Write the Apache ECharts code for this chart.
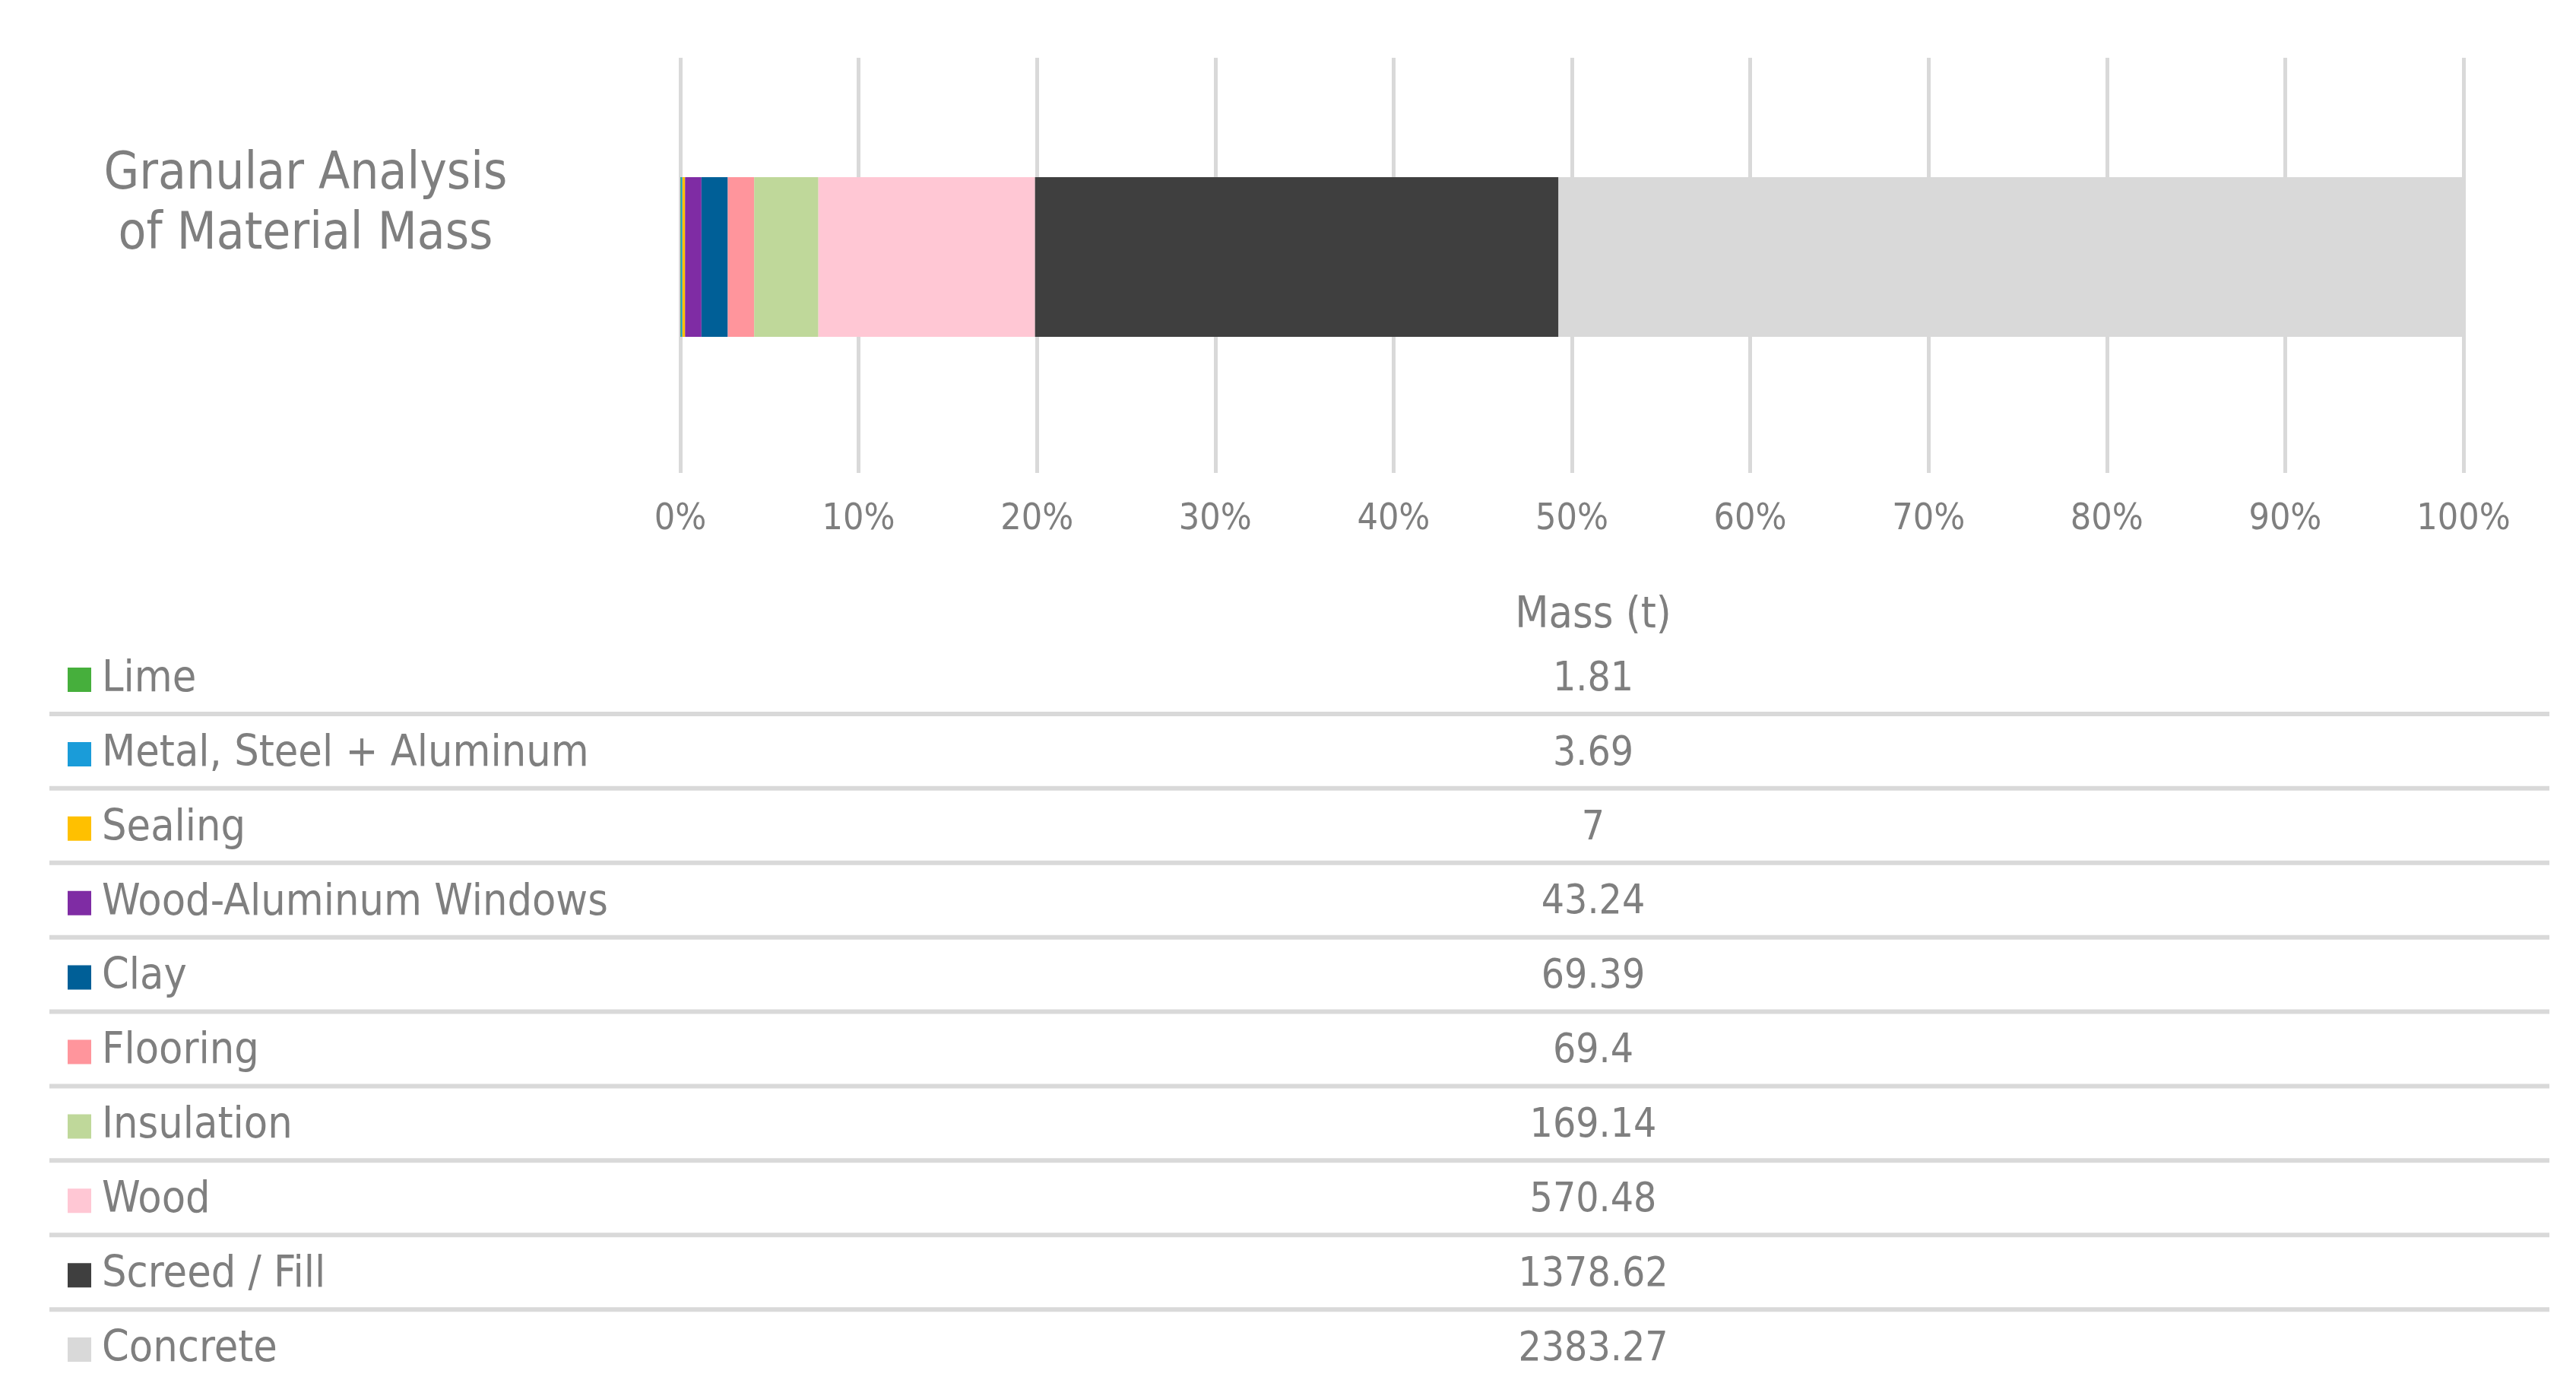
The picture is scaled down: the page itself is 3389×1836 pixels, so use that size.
<!DOCTYPE html>
<html><head><meta charset="utf-8">
<script src="https://cdn.jsdelivr.net/npm/echarts@6/dist/echarts.min.js"></script>
<style>html,body{margin:0;padding:0;background:#fff}#c{width:3389px;height:1836px}</style>
</head><body><div id="c"></div>
<script>
const materials = ['Lime','Metal, Steel + Aluminum','Sealing','Wood-Aluminum Windows','Clay','Flooring','Insulation','Wood','Screed / Fill','Concrete'];
const massTonnes = [1.81,3.69,7,43.24,69.39,69.4,169.14,570.48,1378.62,2383.27];
const colors = ['#46AF3C','#1A9CD9','#FFC000','#7F2CA4','#005F97','#FF959C','#BFD89A','#FFC7D4','#3F3F3F','#D9D9D9'];
const categoryName = ['Granular Analysis\nof Material Mass'];
const tickLabels = ['0%','10%','20%','30%','40%','50%','60%','70%','80%','90%','100%'];
const columnHeader = 'Mass (t)';

const FONT = 'DejaVu Sans Condensed';
const GREY = '#7F7F7F';
const total = massTonnes.reduce((a,b)=>a+b,0);
const pct = massTonnes.map(v => v/total*100);

const chart = echarts.init(document.getElementById('c'));

const series = materials.map((m,i)=>({
  name: m, type:'bar', stack:'all', barWidth:210,
  xAxisIndex:1, yAxisIndex:1,
  itemStyle:{color:colors[i]},
  data:[pct[i]]
}));

const rowTop = 894, rowStep = 97.9;
const graphic = [];
graphic.push({type:'text', x:402, y:270, style:{text:categoryName[0], font:`67px "${FONT}"`, fill:GREY, align:'center', verticalAlign:'middle', lineHeight:79}});
graphic.push({type:'text', x:2096, y:810, style:{text:columnHeader, font:`57px "${FONT}"`, fill:GREY, align:'center', verticalAlign:'middle'}});
materials.forEach((m,i)=>{
  const cy = rowTop + i*rowStep;
  graphic.push({type:'rect', shape:{x:89, y:cy-16, width:31, height:32}, style:{fill:colors[i]}});
  graphic.push({type:'text', x:134, y:cy, style:{text:m, font:`57px "${FONT}"`, fill:GREY, align:'left', verticalAlign:'middle'}});
  graphic.push({type:'text', x:2096, y:cy, style:{text:String(massTonnes[i]), font:`53px "${FONT}"`, fill:GREY, align:'center', verticalAlign:'middle'}});
  if (i < materials.length-1) {
    graphic.push({type:'rect', shape:{x:65, y:rowTop-4 + i*rowStep+rowStep/2-3, width:3289, height:6}, style:{fill:'#D9D9D9'}});
  }
});

chart.setOption({
  animation:false,
  textStyle:{fontFamily:FONT},
  grid:[
    {left:895, right:148, top:76, bottom:1214},
    {left:895, right:148, top:54, bottom:1214}
  ],
  xAxis:[
    {type:'value', gridIndex:0, min:0, max:100, interval:10,
      axisLine:{show:false}, axisTick:{show:false},
      splitLine:{show:true, lineStyle:{color:'#D9D9D9', width:5}},
      axisLabel:{color:GREY, fontSize:48, fontFamily:FONT, margin:38, formatter:(v)=>tickLabels[Math.round(v/10)]}},
    {type:'value', gridIndex:1, min:0, max:100, show:false, splitLine:{show:false}}
  ],
  yAxis:[
    {type:'category', gridIndex:0, data:categoryName, axisLine:{show:false}, axisTick:{show:false}, axisLabel:{show:false}},
    {type:'category', gridIndex:1, data:categoryName, show:false}
  ],
  series: series,
  graphic: graphic
});
</script></body></html>
